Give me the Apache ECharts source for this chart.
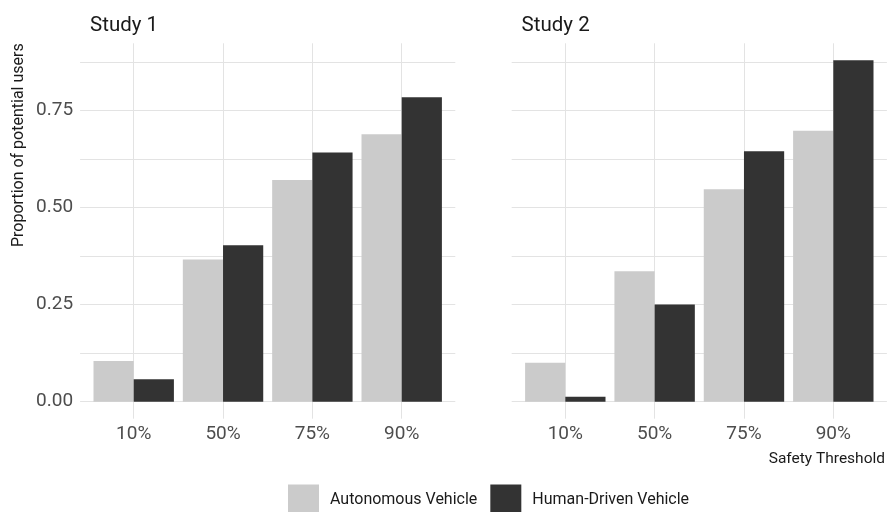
<!DOCTYPE html>
<html><head><meta charset="utf-8">
<script src="https://cdn.jsdelivr.net/npm/echarts@6/dist/echarts.min.js"></script>
<style>html,body{margin:0;padding:0;background:#fff}#chart{width:887px;height:512px}</style>
</head><body><div id="chart"></div>
<script>
// ---- data ----
const categories = ['10%', '50%', '75%', '90%'];
const studies = ['Study 1', 'Study 2'];
const seriesNames = ['Autonomous Vehicle', 'Human-Driven Vehicle'];
const study1Autonomous = [0.105, 0.366, 0.571, 0.689];
const study1Human = [0.058, 0.403, 0.642, 0.784];
const study2Autonomous = [0.100, 0.336, 0.547, 0.698];
const study2Human = [0.013, 0.250, 0.645, 0.879];
const yTickValues = [0, 0.25, 0.5, 0.75];
const yMinorStep = 0.125;
const yAxisTitle = 'Proportion of potential users';
const xAxisTitle = 'Safety Threshold';

// ---- styling / layout ----
const FONT = 'Roboto, "Noto Sans", sans-serif';
const colors = ['#cbcbcb', '#333333'];
const gridColor = '#e3e3e3';
const panelLefts = [80.1, 511.7];
const panelWidth = 375.2;
const panelTop = 43.3;
const zeroY = 401.7;
const panelBottom = 418.7;
const band = panelWidth / (categories.length + 0.2);
const studyData = [[study1Autonomous, study1Human], [study2Autonomous, study2Human]];
const allVals = [].concat(study1Autonomous, study1Human, study2Autonomous, study2Human);
const yMax = Math.max.apply(null, allVals) * 1.05;
const isMajor = v => yTickValues.some(t => Math.abs(t - v) < 1e-9);

const grid = [], xAxis = [], yAxis = [], series = [], title = [];
studies.forEach((name, p) => {
  const L = panelLefts[p];
  const g0 = grid.length;
  // background grid: horizontal gridlines + y labels
  grid.push({left: L, top: panelTop, width: panelWidth, height: zeroY - panelTop, outerBoundsMode: 'none', containLabel: false});
  xAxis.push({type: 'category', gridIndex: g0, data: categories, show: false});
  yAxis.push({type: 'value', gridIndex: g0, min: 0, max: yMax, interval: yMinorStep,
    axisLine: {show: false}, axisTick: {show: false},
    splitLine: {show: true, showMaxLine: false, lineStyle: {color: gridColor, width: 1}},
    axisLabel: {show: p === 0, margin: 7, color: '#4d4d4d', fontFamily: FONT, fontSize: 19, padding: [6, 0, 0, 0],
      showMaxLabel: false,
      formatter: v => isMajor(v) ? v.toFixed(2) : ''}});
  // vertical gridlines at category centres + x labels
  grid.push({left: L + 0.6 * band, top: panelTop, width: (categories.length - 1) * band, height: panelBottom - panelTop, outerBoundsMode: 'none', containLabel: false});
  xAxis.push({type: 'category', gridIndex: g0 + 1, data: categories, boundaryGap: false,
    axisLine: {show: false}, axisTick: {show: false},
    splitLine: {show: true, interval: 0, lineStyle: {color: gridColor, width: 1}},
    axisLabel: {show: true, interval: 0, margin: 6, color: '#4d4d4d', fontFamily: FONT, fontSize: 19}});
  yAxis.push({type: 'value', gridIndex: g0 + 1, min: 0, max: 1, show: false});
  // bars
  grid.push({left: L + 0.1 * band, top: panelTop, width: categories.length * band, height: zeroY - panelTop, outerBoundsMode: 'none', containLabel: false});
  xAxis.push({type: 'category', gridIndex: g0 + 2, data: categories, show: false});
  yAxis.push({type: 'value', gridIndex: g0 + 2, min: 0, max: yMax, show: false});
  seriesNames.forEach((sn, k) => {
    series.push({type: 'bar', name: sn, xAxisIndex: g0 + 2, yAxisIndex: g0 + 2,
      data: studyData[p][k], barGap: 0, barCategoryGap: '10%',
      itemStyle: {color: colors[k], borderWidth: 0}, silent: true});
  });
  title.push({text: name, left: L + 9.9, top: 15, padding: 0,
    textStyle: {fontFamily: FONT, fontSize: 20.5, fontWeight: 'normal', color: '#1a1a1a'}});
});
title.push({text: xAxisTitle, right: 2, top: 451, padding: 0,
  textStyle: {fontFamily: FONT, fontSize: 15.5, fontWeight: 'normal', color: '#1a1a1a'}});

const option = {
  animation: false,
  backgroundColor: '#ffffff',
  color: colors,
  title: title,
  grid: grid, xAxis: xAxis, yAxis: yAxis, series: series,
  legend: {left: 288, top: 484.5, padding: 0, itemWidth: 31, itemHeight: 31, itemGap: 13, icon: 'rect',
    data: seriesNames, selectedMode: false,
    itemStyle: {borderWidth: 0},
    textStyle: {fontFamily: FONT, fontSize: 16, color: '#1a1a1a', padding: [0, 0, 0, 6]}},
  graphic: [{type: 'text', x: 19, y: panelTop, rotation: Math.PI / 2,
    style: {text: yAxisTitle, font: '16px ' + FONT, fill: '#1a1a1a',
      textAlign: 'right', textVerticalAlign: 'middle', align: 'right', verticalAlign: 'middle'}}]
};
const chart = echarts.init(document.getElementById('chart'), null, {renderer: 'canvas'});
chart.setOption(option);
</script></body></html>
